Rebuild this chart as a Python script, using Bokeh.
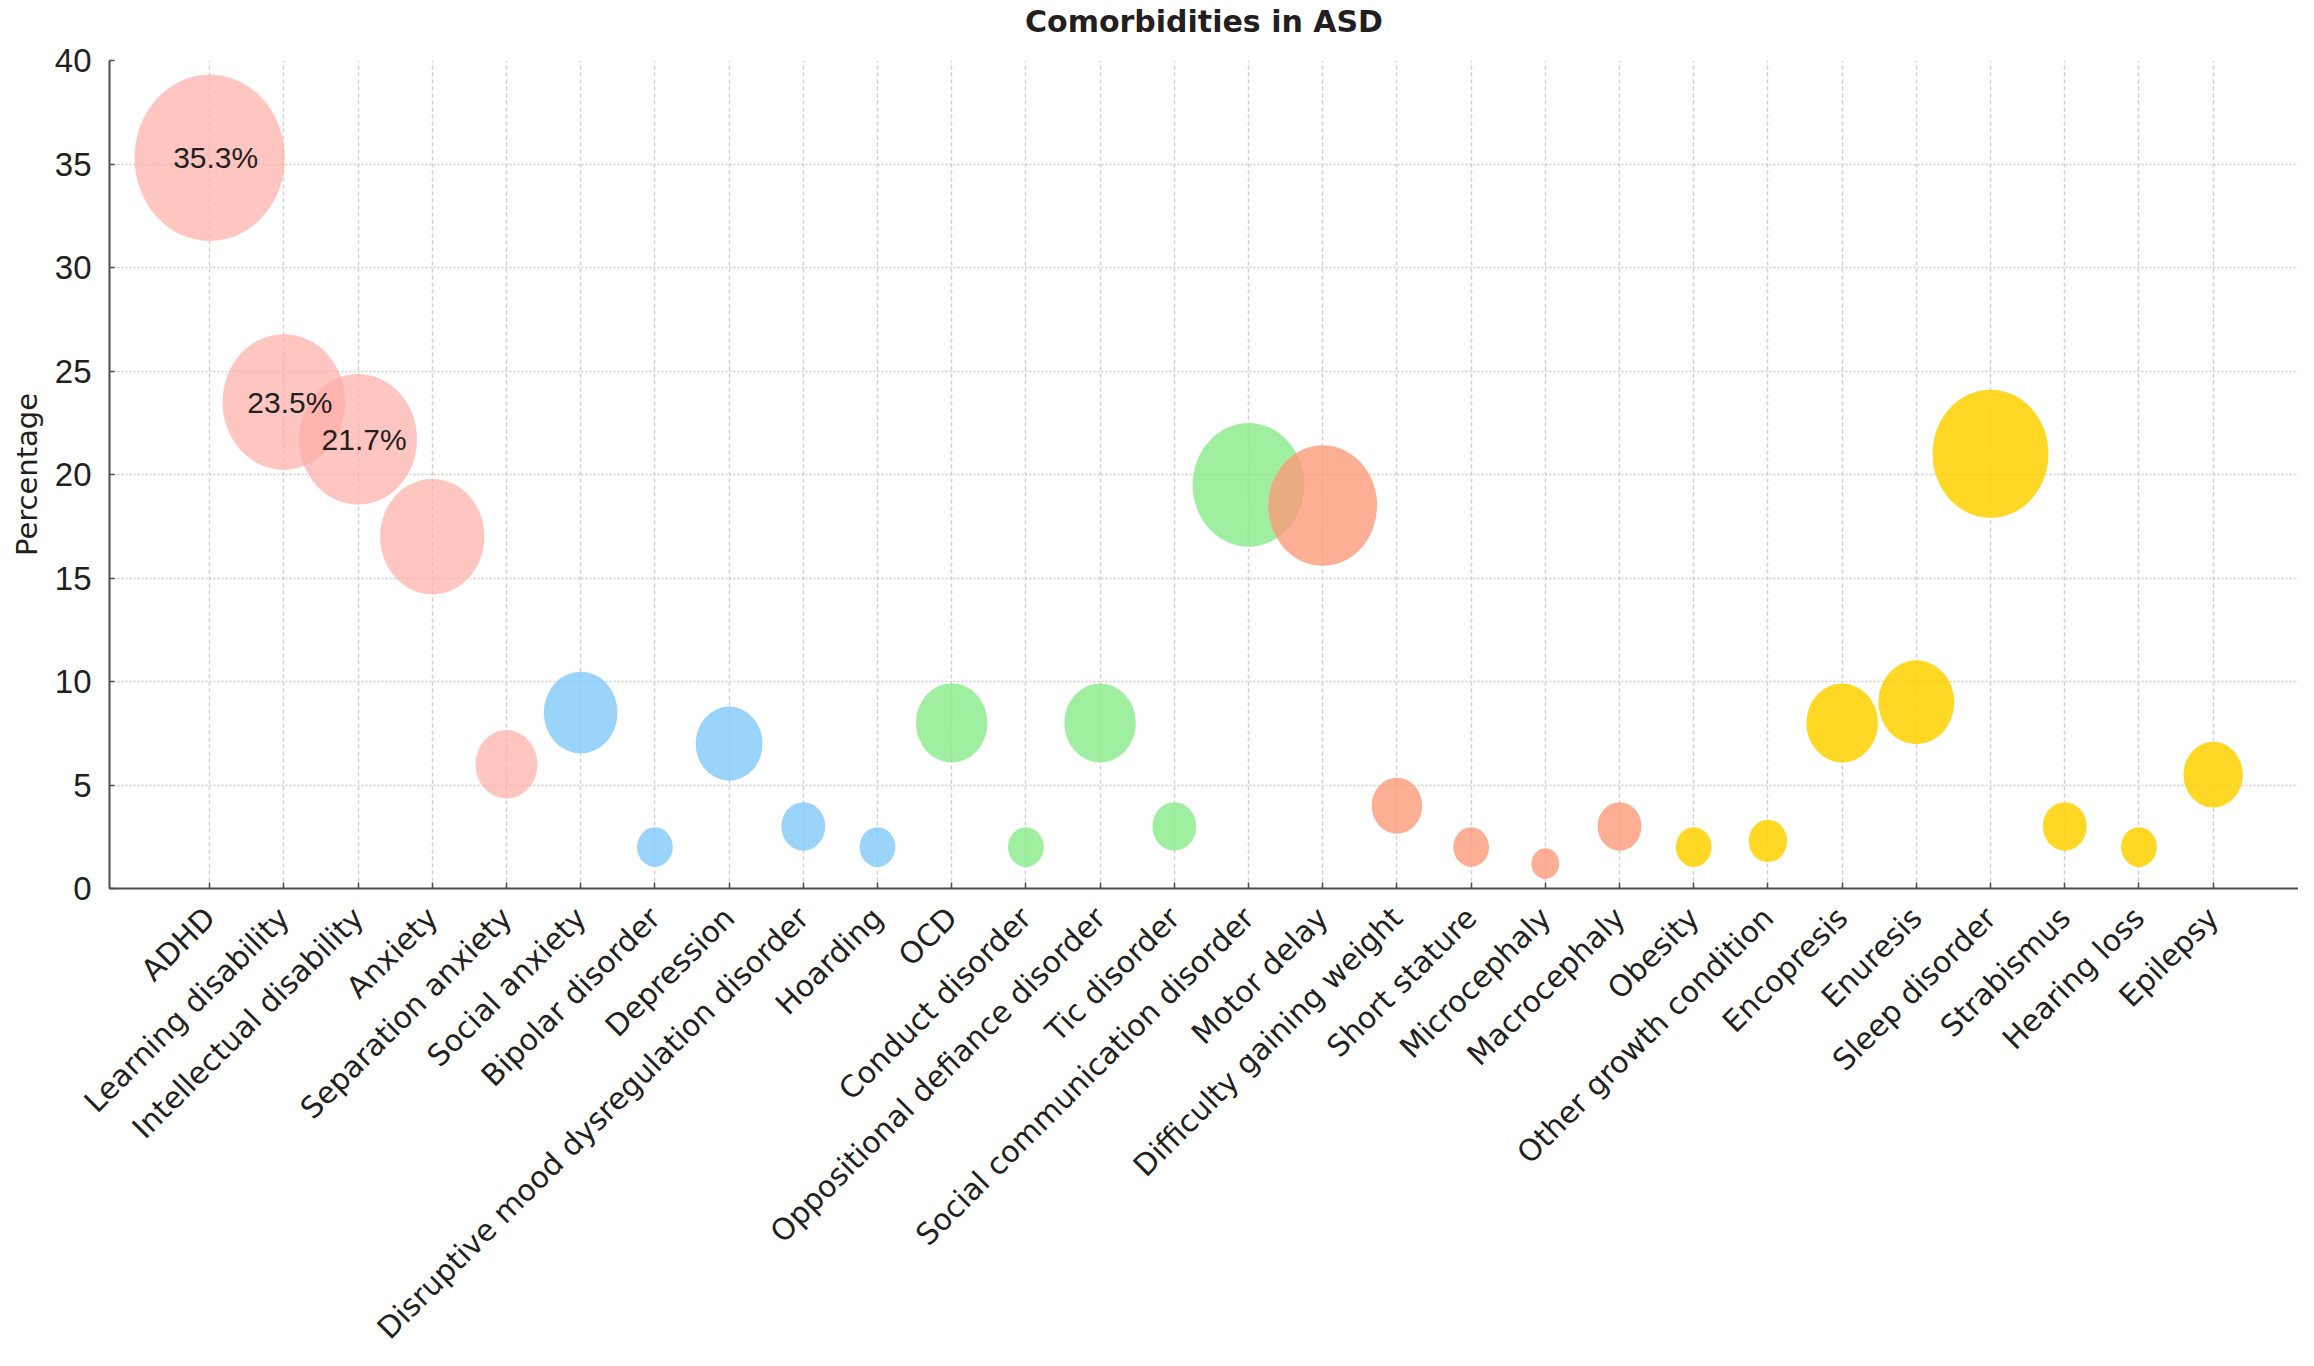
import math
import numpy as np
from bokeh.plotting import figure
from bokeh.models import ColumnDataSource, Range1d, FixedTicker, Title
from bokeh.embed import file_html
from bokeh.resources import INLINE
from bokeh.core.properties import value

# ---------------- data ----------------
title_text = "Comorbidities in ASD"
categories = [
    "ADHD", "Learning disability", "Intellectual disability", "Anxiety",
    "Separation anxiety", "Social anxiety", "Bipolar disorder", "Depression",
    "Disruptive mood dysregulation disorder", "Hoarding", "OCD",
    "Conduct disorder", "Oppositional defiance disorder", "Tic disorder",
    "Social communication disorder", "Motor delay", "Difficulty gaining weight",
    "Short stature", "Microcephaly", "Macrocephaly", "Obesity",
    "Other growth condition", "Encopresis", "Enuresis", "Sleep disorder",
    "Strabismus", "Hearing loss", "Epilepsy",
]
percentages = [
    35.3, 23.5, 21.7, 17.0,
    6.0, 8.5, 2.0, 7.0,
    3.0, 2.0, 8.0,
    2.0, 8.0, 3.0,
    19.5, 18.5, 4.0,
    2.0, 1.2, 3.0, 2.0,
    2.3, 8.0, 9.0, 21.0,
    3.0, 2.0, 5.5,
]
groups = (["pink"] * 5 + ["blue"] * 5 + ["green"] * 5 + ["salmon"] * 5 + ["yellow"] * 8)
labelled_categories = ["ADHD", "Learning disability", "Intellectual disability"]
labelled_values = [35.3, 23.5, 21.7]
y_ticks = [0, 5, 10, 15, 20, 25, 30, 35, 40]

# ---------------- styling ----------------
group_colors = {
    "pink": "#FFACA6",
    "blue": "#82C9F9",
    "green": "#88EB88",
    "salmon": "#FB9B7B",
    "yellow": "#FFD100",
}
group_alpha = {"pink": 0.7, "blue": 0.8, "green": 0.8, "salmon": 0.8, "yellow": 0.85}
W_SCALE = 25.3   # screen px per sqrt(percentage)
H_SCALE = 28.0
TEXT = "#231f20"
FRAME_W, FRAME_H = 2189, 828
X_START, X_END = -1.35, 28.15

positions = list(range(len(categories)))
pos_of = dict(zip(categories, positions))

src = ColumnDataSource(dict(
    x=positions,
    pct=percentages,
    w=[W_SCALE * math.sqrt(v) for v in percentages],
    h=[H_SCALE * math.sqrt(v) for v in percentages],
    color=[group_colors[g] for g in groups],
    alpha=[group_alpha[g] for g in groups],
))

p = figure(
    x_range=Range1d(X_START, X_END),
    y_range=Range1d(0, 40),
    frame_width=FRAME_W, frame_height=FRAME_H,
    min_border_left=109, min_border_right=0, min_border_top=60, min_border_bottom=440,
    output_backend="svg", toolbar_location=None,
)
try:
    p.title = None
except Exception:
    p.title.text = ""

p.ellipse(x="x", y="pct", width="w", height="h",
          width_units="screen", height_units="screen",
          fill_color="color", fill_alpha="alpha", line_color=None, source=src)

p.text(x=[pos_of[c] for c in labelled_categories], y=labelled_values,
       text=[f"{v}%" for v in labelled_values],
       x_offset=6, text_align="center", text_baseline="middle",
       text_font=value("Liberation Sans"), text_font_size="30px", text_color=TEXT)

# title: a thin spacer next to the frame, then the real title above it
p.add_layout(Title(text=" ", text_font_size="2px", standoff=18), "above")
p.add_layout(Title(text=title_text, align="center", text_font="DejaVu Sans",
                   text_font_size="30px", text_font_style="bold",
                   text_color=TEXT, standoff=0), "above")

# axes
p.outline_line_color = None
p.background_fill_color = "white"
p.border_fill_color = "white"

p.yaxis.ticker = FixedTicker(ticks=y_ticks)
p.yaxis.minor_tick_line_color = None
p.yaxis.major_tick_in = 5
p.yaxis.major_tick_out = 0
p.yaxis.major_label_standoff = 18
p.yaxis.major_label_text_font = "Liberation Sans"
p.yaxis.major_label_text_font_size = "33px"
p.yaxis.major_label_text_color = TEXT
p.yaxis.axis_label = "Percentage"
p.yaxis.axis_label_text_font = "DejaVu Sans"
p.yaxis.axis_label_text_font_size = "29px"
p.yaxis.axis_label_text_font_style = "normal"
p.yaxis.axis_label_text_color = TEXT
p.yaxis.axis_label_standoff = 8

p.xaxis.ticker = FixedTicker(ticks=positions)
p.xaxis.major_label_overrides = {i: c for i, c in zip(positions, categories)}
p.xaxis.minor_tick_line_color = None
p.xaxis.major_label_orientation = math.pi / 4
p.xaxis.major_tick_in = 6
p.xaxis.major_tick_out = 0
p.xaxis.major_label_standoff = 24
p.xaxis.major_label_text_font = "DejaVu Sans"
p.xaxis.major_label_text_font_size = "30px"
p.xaxis.major_label_text_color = TEXT

for ax in (p.xaxis, p.yaxis):
    ax.axis_line_color = "#4d4d4d"
    ax.axis_line_width = 2
    ax.major_tick_line_color = "#4d4d4d"
    ax.major_tick_line_width = 1.5

p.xgrid.ticker = FixedTicker(ticks=positions)
p.xgrid.grid_line_color = "#d0d0d0"
p.xgrid.grid_line_dash = "4 3"
p.xgrid.grid_line_width = 1.5
p.ygrid.grid_line_color = "#cccccc"
p.ygrid.grid_line_dash = "2 2"
p.ygrid.grid_line_width = 1.5
p.ygrid.ticker = FixedTicker(ticks=y_ticks)

open("out.html", "w").write(file_html(p, INLINE))
